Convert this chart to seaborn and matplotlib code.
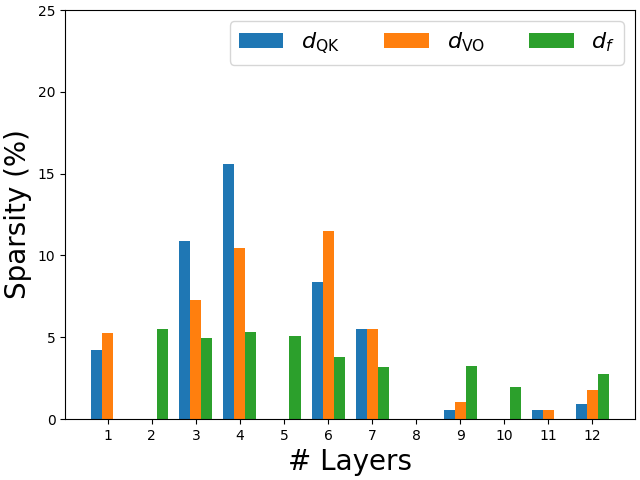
import pandas as pd
import seaborn as sns
import matplotlib.pyplot as plt

layers = [str(i) for i in range(1, 13)]
d_qk = [4.2, 0, 10.9, 15.6, 0, 8.35, 5.5, 0, 0.55, 0, 0.55, 0.9]
d_vo = [5.25, 0, 7.3, 10.45, 0, 11.5, 5.5, 0, 1.05, 0, 0.55, 1.8]
d_f = [0, 5.5, 4.95, 5.3, 5.1, 3.8, 3.2, 0, 3.25, 1.95, 0, 2.75]
labels = [r'$d_{\mathrm{QK}}$', r'$d_{\mathrm{VO}}$', r'$d_f$']

df = pd.DataFrame({
    'Layer': layers * 3,
    'Sparsity': d_qk + d_vo + d_f,
    'Type': [labels[0]] * 12 + [labels[1]] * 12 + [labels[2]] * 12,
})

plt.figure(figsize=(6.4, 4.8), dpi=100)
ax = sns.barplot(data=df, x='Layer', y='Sparsity', hue='Type',
                 palette=['#1f77b4', '#ff7f0e', '#2ca02c'],
                 width=0.75, saturation=1, errorbar=None)
ax.set_ylim(0, 25)
ax.set_xlim(-0.9625, 11.9625)
ax.set_xlabel('# Layers', fontsize=20)
ax.set_ylabel('Sparsity (%)', fontsize=20)
ax.legend(ncol=3, fontsize=16, loc='upper right', title=None)
plt.subplots_adjust(left=0.102, right=0.992, top=0.979, bottom=0.127)
plt.savefig('out.png')
